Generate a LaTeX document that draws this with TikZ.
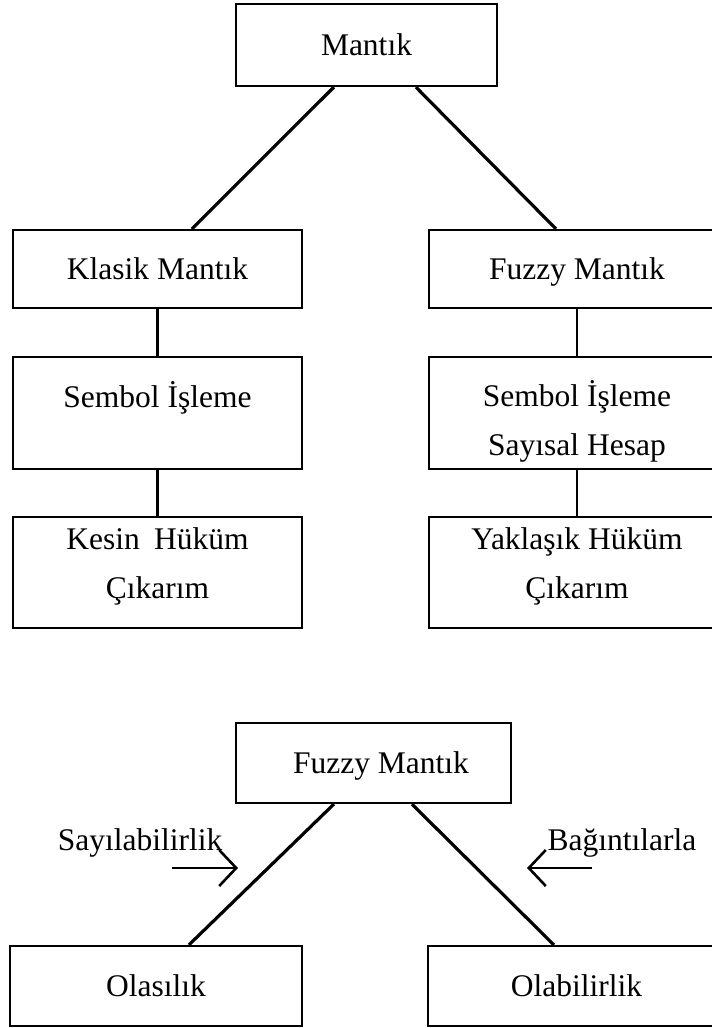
\documentclass[tikz,border=0pt]{standalone}
\usepackage{fontspec}
\setmainfont{Liberation Serif}
\usetikzlibrary{arrows.meta,calc}
\tikzset{
  box/.style={draw=black, line width=2.2pt, rectangle, inner sep=0pt, align=center},
  one/.style={text height=28pt, text depth=7pt},
  txt/.style={inner sep=0pt, align=center},
  diag/.style={line width=3.2pt},
  vline/.style={line width=2.4pt},
  sidearrow/.style={line width=2.6pt, -{Straight Barb[length=17pt,width=36pt,line width=2.6pt]}}
}
\begin{document}
\begin{tikzpicture}[x=1pt,y=-1pt,font=\fontsize{31.5}{49}\selectfont]
\useasboundingbox (0,0) rectangle (712,1028);
% top tree
\node[box, one, minimum width=261pt, minimum height=82pt] (mantik) at (366.5,45) {Mantık};
\node[box, one, minimum width=289pt, minimum height=78pt] (klasik) at (157.5,269) {Klasik Mantık};
\node[box, one, minimum width=296pt, minimum height=78pt] (fuzzy) at (577,269) {Fuzzy Mantık};
\node[box, minimum width=289pt, minimum height=112pt] (semL) at (157.5,413) {};
\node[txt, one] (semLt) at (157.5,397) {Sembol İşleme};
\node[box, minimum width=296pt, minimum height=112pt] (semR) at (577,413) {};
\node[txt] (semRt) at (577,421) {Sembol İşleme\\Sayısal Hesap};
\node[box, minimum width=289pt, minimum height=111pt] (kesin) at (157.5,572.5) {};
\node[txt] (kesint) at (157.5,566) {Kesin\hspace{0.45em}Hüküm\\Çıkarım};
\node[box, minimum width=296pt, minimum height=111pt] (yak) at (577,572.5) {};
\node[txt] (yakt) at (577,566) {Yaklaşık Hüküm\\Çıkarım};
\draw[diag] ($(mantik.south west)+(99,0)$) -- ($(klasik.north west)+(180,0)$);
\draw[diag] ($(mantik.south west)+(181,0)$) -- ($(fuzzy.north west)+(128,0)$);
\draw[vline] (klasik.south) -- (semL.north);
\draw[vline] (fuzzy.south) -- (semR.north);
\draw[vline] (semL.south) -- (kesin.north);
\draw[vline] (semR.south) -- (yak.north);
% bottom tree
\node[box, minimum width=275pt, minimum height=80pt] (fuzzy2) at (373.5,763) {};
\node[txt, one] (fuzzy2t) at (381,763) {Fuzzy Mantık};
\node[box, one, minimum width=292pt, minimum height=80pt] (olas) at (156,986) {Olasılık};
\node[box, one, minimum width=297pt, minimum height=80pt] (olab) at (576.5,986) {Olabilirlik};
\draw[diag] ($(fuzzy2.south west)+(99,0)$) -- ($(olas.north west)+(180,0)$);
\draw[diag] ($(fuzzy2.south west)+(177,0)$) -- ($(olab.north west)+(127,0)$);
\node[txt, one] (say) at (140,840) {Sayılabilirlik};
\node[txt, one] (bag) at (622,840) {Bağıntılarla};
\coordinate (saA) at (172,868);
\coordinate (saB) at (238,868);
\coordinate (baA) at (592,868);
\coordinate (baB) at (527,868);
\draw[sidearrow] (saA) -- (saB);
\draw[sidearrow] (baA) -- (baB);
\end{tikzpicture}
\end{document}
